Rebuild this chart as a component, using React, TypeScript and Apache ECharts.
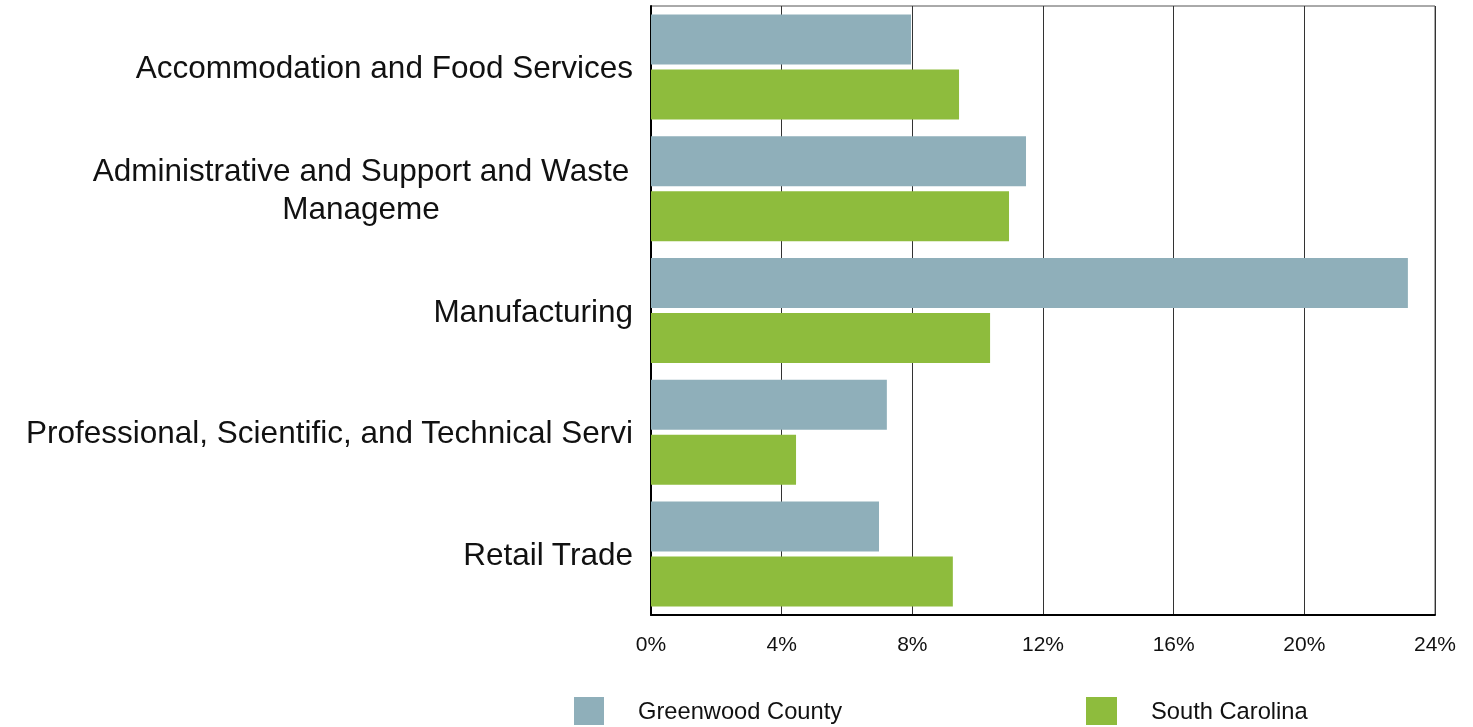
import React, { useEffect, useRef } from "react";
import * as echarts from "echarts";

const categories = [
  "Accommodation and Food Services",
  "Administrative and Support and Waste\nManageme",
  "Manufacturing",
  "Professional, Scientific, and Technical Servi",
  "Retail Trade",
];
const greenwood = [7.96, 11.48, 23.17, 7.22, 6.98];
const southCarolina = [9.43, 10.96, 10.38, 4.44, 9.24];
const tickValues = [0, 4, 8, 12, 16, 20, 24];
const seriesNames = ["Greenwood County", "South Carolina"];
const colors = ["#8FAFBA", "#8EBC3D"];

export default function App() {
  const ref = useRef<HTMLDivElement>(null);
  useEffect(() => {
    if (!ref.current) return;
    const chart = echarts.init(ref.current, undefined, { renderer: "svg" });
    const font = "'Liberation Sans', Arial, sans-serif";
    const legendText = { fontSize: 23.7, color: "#111", padding: [2, 0, 0, 29], fontFamily: font };
    chart.setOption({
      animation: false,
      textStyle: { fontFamily: font },
      grid: {
        left: 651,
        right: 38,
        top: 6,
        bottom: 112,
        containLabel: false,
        show: true,
        borderColor: "#555",
        borderWidth: 1,
      },
      legend: [
        {
          data: [seriesNames[0]],
          left: 574,
          top: 697,
          padding: 0,
          itemWidth: 30,
          itemHeight: 28,
          icon: "rect",
          textStyle: legendText,
        },
        {
          data: [seriesNames[1]],
          left: 1086,
          top: 697,
          padding: 0,
          itemWidth: 31,
          itemHeight: 28,
          icon: "rect",
          textStyle: legendText,
        },
      ],
      xAxis: {
        type: "value",
        min: tickValues[0],
        max: tickValues[tickValues.length - 1],
        interval: 4,
        axisLine: { show: true, lineStyle: { color: "#000", width: 2 } },
        axisTick: { show: false },
        splitLine: { show: true, lineStyle: { color: "#333", width: 1 } },
        axisLabel: {
          formatter: (v: number) => `${v}%`,
          fontSize: 21,
          color: "#111",
          margin: 18,
          fontFamily: font,
        },
      },
      yAxis: {
        type: "category",
        data: categories,
        inverse: true,
        axisLine: { show: true, lineStyle: { color: "#000", width: 2 } },
        axisTick: { show: false },
        axisLabel: {
          fontSize: 31.5,
          color: "#111",
          margin: 18,
          fontFamily: font,
          lineHeight: 38,
          formatter: (v: string) =>
            v.includes("\n")
              ? v
                  .split("\n")
                  .map((l) => `{c|${l}}`)
                  .join("\n")
              : v,
          rich: {
            c: { width: 544, align: "center", fontSize: 31.5, lineHeight: 38, fontFamily: font, color: "#111" },
          },
        },
      },
      series: [
        {
          name: seriesNames[0],
          type: "bar",
          data: greenwood,
          itemStyle: { color: colors[0] },
          barWidth: 50,
          barGap: "10%",
        },
        {
          name: seriesNames[1],
          type: "bar",
          data: southCarolina,
          itemStyle: { color: colors[1] },
          barWidth: 50,
          barGap: "10%",
        },
      ],
    });
    return () => chart.dispose();
  }, []);
  return (
    <div
      ref={ref}
      style={{ position: "fixed", left: 0, top: 0, width: 1473, height: 727 }}
    />
  );
}
